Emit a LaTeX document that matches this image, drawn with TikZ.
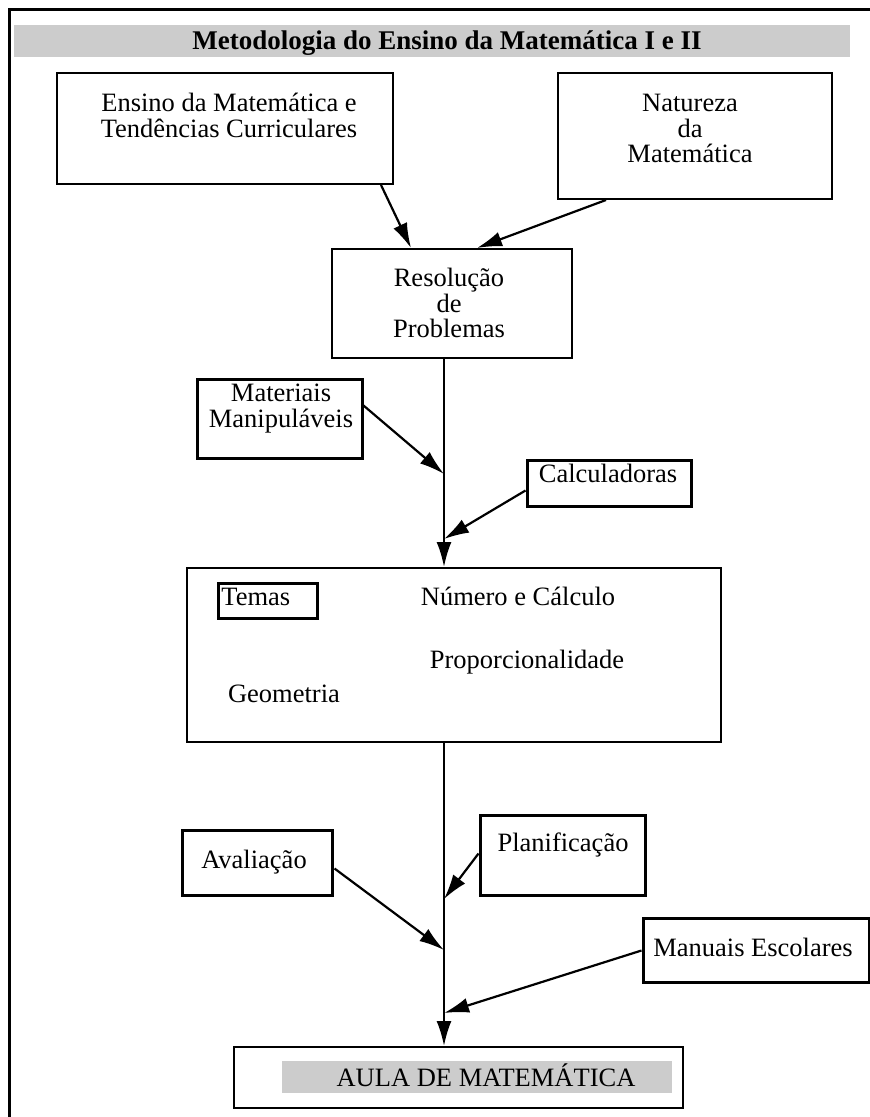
\documentclass[tikz,border=0pt]{standalone}
\usepackage{fontspec}
\setmainfont{Liberation Serif}
\usetikzlibrary{arrows.meta,calc}
\definecolor{barGray}{gray}{0.8}

\tikzstyle{block}=[draw,line width=1pt,inner sep=0pt]
\tikzstyle{heavy}=[block,line width=1.5pt]
\tikzstyle{band}=[fill=barGray,inner sep=0pt]
\tikzstyle{txt}=[inner sep=0pt,align=center]
\tikzstyle{link}=[draw,line width=1.1pt,->]

\begin{document}
\begin{tikzpicture}[x=0.5pt,y=-0.5pt,>={Latex[length=12.5pt,width=7.5pt]},
    font=\fontsize{13.25}{12.75}\selectfont]
	\useasboundingbox (0,0) rectangle (870,1117);
	\draw[line width=1.5pt] (9,1130) -- (9,10) -- (880,10);

	% title
	\node [band,minimum width=418pt,minimum height=16pt] (titlebar) at (432,41) {};
	\node [txt,anchor=base,font=\fontsize{13.5}{14}\selectfont\bfseries] (title) at (447,50)
		{Metodologia do Ensino da Matemática I e II};

	% boxes
	\node [block,minimum width=168pt,minimum height=55.5pt]   (ensino)       at (225,128.5) {};
	\node [block,minimum width=137pt,minimum height=63pt]     (natureza)     at (695,136) {};
	\node [block,minimum width=120pt,minimum height=54.5pt]   (resolucao)    at (452,303.5) {};
	\node [heavy,minimum width=82.5pt,minimum height=39.5pt]  (materiais)    at (279.5,418.5) {};
	\node [heavy,minimum width=82pt,minimum height=23pt]      (calculadoras) at (609,483) {};
	\node [block,minimum width=267pt,minimum height=87pt]     (temas)        at (454,655) {};
	\node [heavy,minimum width=49.5pt,minimum height=17.5pt]  (temastag)     at (267.5,600.5) {};
	\node [heavy,minimum width=75pt,minimum height=32.5pt]    (avaliacao)    at (257,862.5) {};
	\node [heavy,minimum width=82.5pt,minimum height=40pt]    (planificacao) at (562.5,855) {};
	\node [heavy,minimum width=113pt,minimum height=32pt]     (manuais)      at (756,950) {};
	\node [block,minimum width=224.5pt,minimum height=30.5pt] (aula)         at (458.5,1077.5) {};
	\node [band,minimum width=195pt,minimum height=16pt]      (aulabar)      at (477,1077) {};

	% texts
	\node [txt,anchor=north] (ensinoT)    at (229,93)  {Ensino da Matemática e\\Tendências Curriculares};
	\node [txt,anchor=north] (naturezaT)  at (690,94)  {Natureza\\da\\Matemática};
	\node [txt,anchor=north] (resolucaoT) at (449,268) {Resolução\\de\\Problemas};
	\node [txt,anchor=north] (materiaisT) at (281,384) {Materiais\\Manipuláveis};
	\node [txt,anchor=base]  (calcT)      at (608,482) {Calculadoras};
	\node [txt,anchor=base west] (temasT) at (221,605) {Temas};
	\node [txt,anchor=base]  (numeroT)    at (518,605) {Número e Cálculo};
	\node [txt,anchor=base]  (propT)      at (527,668) {Proporcionalidade};
	\node [txt,anchor=base]  (geoT)       at (284,702) {Geometria};
	\node [txt,anchor=base]  (avalT)      at (254,868) {Avaliação};
	\node [txt,anchor=base]  (planT)      at (563,851) {Planificação};
	\node [txt,anchor=base]  (manT)       at (753,956) {Manuais Escolares};
	\node [txt,anchor=base]  (aulaT)      at (486,1086) {AULA DE MATEMÁTICA};

	% joins on the spine
	\coordinate (jMat)  at (444,474);
	\coordinate (jCalc) at (444,539);
	\coordinate (jPlan) at (444,899);
	\coordinate (jAval) at (444,950);
	\coordinate (jMan)  at (444,1013);

	\draw [link] ($(ensino.south east)+(-13,0)$) -- ($(resolucao.north west)+(80,0)$);
	\draw [link] ($(natureza.south west)+(49,0)$) -- ($(resolucao.north west)+(146,0)$);
	\draw [link] (resolucao.south -| jMat) -- (temas.north -| jMat);
	\draw [link] ($(materiais.north east)+(0,28)$) -- (jMat);
	\draw [link] ($(calculadoras.north west)+(0,32)$) -- (jCalc);
	\draw [link] (temas.south -| jMat) -- (aula.north -| jMat);
	\draw [link] ($(avaliacao.north east)+(1,40)$) -- (jAval);
	\draw [link] ($(planificacao.north west)+(0,40)$) -- (jPlan);
	\draw [link] ($(manuais.north west)+(0,34)$) -- (jMan);
\end{tikzpicture}
\end{document}
